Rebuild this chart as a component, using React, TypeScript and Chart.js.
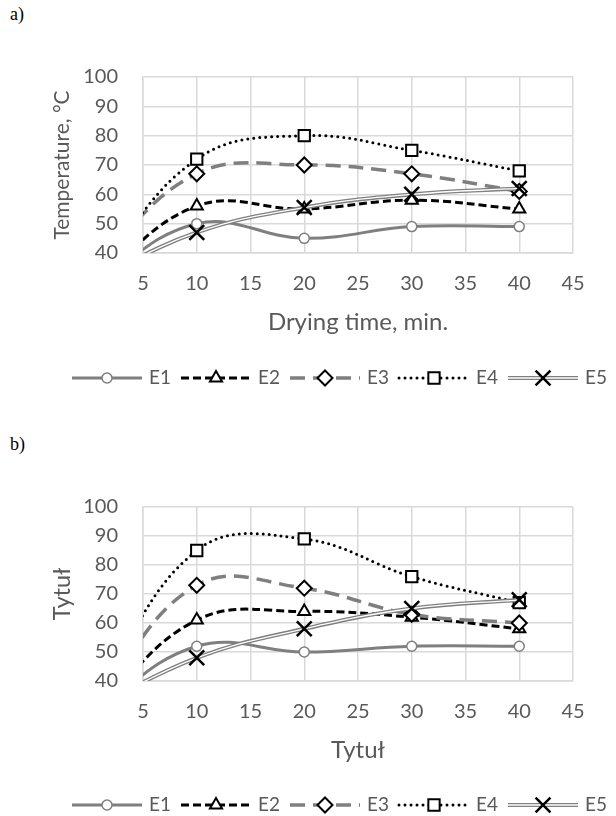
import React, { useEffect, useRef } from 'react';
import { Chart, registerables } from 'chart.js';

Chart.register(...registerables);

// ---------- data ----------
const times = [0, 10, 20, 30, 40];
const seriesNames = ['E1', 'E2', 'E3', 'E4', 'E5'];

// panel a) temperature
const aE1 = [28, 50, 45, 49, 49];
const aE2 = [28, 56, 55, 58, 55];
const aE3 = [34, 67, 70, 67, 61];
const aE4 = [29, 72, 80, 75, 68];
const aE5 = [30, 47, 55.5, 60, 62];

// panel b)
const bE1 = [28, 52, 50, 52, 52];
const bE2 = [27, 61, 64, 62, 58];
const bE3 = [29, 73, 72, 63, 60];
const bE4 = [30, 85, 89, 76, 67];
const bE5 = [30, 48, 58, 65, 68];

const xMin = 5;
const xMax = 45;
const xStep = 5;
const yMin = 40;
const yMax = 100;
const yStep = 10;

const aYTitle = 'Temperature, °C';
const aXTitle = 'Drying time, min.';
const bYTitle = 'Tytuł';
const bXTitle = 'Tytuł';

// ---------- styles ----------
const FONT = 'Lato';
const TEXT = '#595959';
const GRID = '#d9d9d9';
const GRAY = '#7f7f7f';

type Style = {
  color: string;
  width: number;
  dash: number[];
  cap: CanvasLineCap;
  marker: string;
  mColor: string;
  mWidth: number;
  r: number;
};

const styles: Style[] = [
  { color: GRAY, width: 3, dash: [], cap: 'butt', marker: 'circle', mColor: GRAY, mWidth: 1.5, r: 5 },
  { color: '#000', width: 3, dash: [8, 4], cap: 'butt', marker: 'triangle', mColor: '#000', mWidth: 2, r: 7 },
  { color: GRAY, width: 3.5, dash: [15, 8], cap: 'butt', marker: 'rectRot', mColor: '#000', mWidth: 2, r: 7.5 },
  { color: '#000', width: 3, dash: [0, 6], cap: 'round', marker: 'rect', mColor: '#000', mWidth: 2, r: 8 },
  { color: GRAY, width: 4, dash: [], cap: 'butt', marker: 'crossRot', mColor: '#000', mWidth: 2.5, r: 10.5 },
];

function buildDatasets(vals: number[][]) {
  const pts = (arr: number[]) => times.map((t, i) => ({ x: t, y: arr[i] }));
  const ds: any[] = [];
  vals.forEach((arr, i) => {
    const s = styles[i];
    if (i === 4) {
      ds.push({
        label: seriesNames[i] + '_outer',
        data: pts(arr),
        borderColor: s.color,
        borderWidth: s.width,
        pointRadius: 0,
        tension: 0.4,
        clip: 0,
        order: 1,
      });
      ds.push({
        label: seriesNames[i],
        data: pts(arr),
        borderColor: '#ffffff',
        borderWidth: 1.3,
        pointStyle: s.marker,
        pointRadius: s.r,
        pointBorderColor: s.mColor,
        pointBackgroundColor: '#fff',
        pointBorderWidth: s.mWidth,
        tension: 0.4,
        clip: 0,
        order: 0,
      });
    } else {
      ds.push({
        label: seriesNames[i],
        data: pts(arr),
        borderColor: s.color,
        borderWidth: s.width,
        borderDash: s.dash,
        borderCapStyle: s.cap,
        pointStyle: s.marker,
        pointRadius: s.r,
        pointBorderColor: s.mColor,
        pointBackgroundColor: '#fff',
        pointBorderWidth: s.mWidth,
        tension: 0.4,
        clip: 0,
        order: 5 - i + 1,
      });
    }
  });
  return ds;
}

function drawMarker(ctx: CanvasRenderingContext2D, s: Style, x: number, y: number) {
  ctx.save();
  ctx.setLineDash([]);
  ctx.lineWidth = s.mWidth;
  ctx.strokeStyle = s.mColor;
  ctx.fillStyle = '#fff';
  ctx.beginPath();
  const r = s.r;
  if (s.marker === 'circle') {
    ctx.arc(x, y, r, 0, Math.PI * 2);
  } else if (s.marker === 'triangle') {
    const h = (r * 3) / 2;
    const e = (r * 3) / Math.sqrt(3);
    ctx.moveTo(x - e / 2, y + h / 3);
    ctx.lineTo(x + e / 2, y + h / 3);
    ctx.lineTo(x, y - (2 * h) / 3);
    ctx.closePath();
  } else if (s.marker === 'rectRot') {
    ctx.moveTo(x - r, y);
    ctx.lineTo(x, y - r);
    ctx.lineTo(x + r, y);
    ctx.lineTo(x, y + r);
    ctx.closePath();
  } else if (s.marker === 'rect') {
    const h = r * Math.SQRT1_2;
    ctx.rect(x - h, y - h, 2 * h, 2 * h);
  } else if (s.marker === 'crossRot') {
    const h = r * Math.SQRT1_2;
    ctx.moveTo(x - h, y - h);
    ctx.lineTo(x + h, y + h);
    ctx.moveTo(x + h, y - h);
    ctx.lineTo(x - h, y + h);
    ctx.stroke();
    ctx.restore();
    return;
  }
  ctx.fill();
  ctx.stroke();
  ctx.restore();
}

const legendPlugin = {
  id: 'lineLegend',
  afterDraw(chart: any, _args: any, opts: any) {
    const ctx: CanvasRenderingContext2D = chart.ctx;
    const y = opts.y;
    const startX = 72;
    const step = 109;
    const lineLen = 70;
    ctx.save();
    seriesNames.forEach((name, i) => {
      const s = styles[i];
      const x0 = startX + i * step;
      ctx.beginPath();
      ctx.lineWidth = s.width;
      ctx.strokeStyle = s.color;
      ctx.setLineDash(s.dash);
      ctx.lineCap = s.cap;
      ctx.moveTo(x0, y);
      ctx.lineTo(x0 + lineLen, y);
      ctx.stroke();
      if (i === 4) {
        ctx.beginPath();
        ctx.lineWidth = 1.3;
        ctx.strokeStyle = '#fff';
        ctx.setLineDash([]);
        ctx.moveTo(x0, y);
        ctx.lineTo(x0 + lineLen, y);
        ctx.stroke();
      }
      ctx.setLineDash([]);
      drawMarker(ctx, s, x0 + lineLen / 2, y);
      ctx.fillStyle = TEXT;
      ctx.font = `19px ${FONT}`;
      ctx.textAlign = 'left';
      ctx.textBaseline = 'middle';
      ctx.fillText(name, x0 + lineLen + 7, y);
    });
    ctx.restore();
  },
};

type PanelProps = {
  top: number;
  height: number;
  padTop: number;
  padBottom: number;
  legendY: number;
  yTitle: string;
  xTitle: string;
  yTitleSize: number;
  vals: number[][];
};

function Panel({ top, height, padTop, padBottom, legendY, yTitle, xTitle, yTitleSize, vals }: PanelProps) {
  const ref = useRef<HTMLCanvasElement | null>(null);
  useEffect(() => {
    if (!ref.current) return;
    const xTitleSize = 24;
    const chart = new Chart(ref.current, {
      type: 'line',
      data: { datasets: buildDatasets(vals) },
      plugins: [legendPlugin as any],
      options: {
        animation: false,
        responsive: false,
        devicePixelRatio: 1,
        layout: { padding: { top: padTop, bottom: padBottom, left: 0, right: 43 } },
        plugins: {
          legend: { display: false },
          tooltip: { enabled: false },
          lineLegend: { y: legendY },
        } as any,
        scales: {
          x: {
            type: 'linear',
            min: xMin,
            max: xMax,
            ticks: { stepSize: xStep, color: TEXT, font: { family: FONT, size: 20 }, padding: 19 },
            grid: { color: GRID, lineWidth: 1.5, drawTicks: false },
            border: { color: GRID, width: 1.5 },
            title: {
              display: true,
              text: xTitle,
              color: TEXT,
              font: { family: FONT, size: xTitleSize },
              padding: { top: 0, bottom: 6 },
            },
            afterFit: (s: any) => {
              s.height = 90;
            },
          },
          y: {
            type: 'linear',
            min: yMin,
            max: yMax,
            ticks: { stepSize: yStep, color: TEXT, font: { family: FONT, size: 20 }, padding: 25 },
            grid: { color: GRID, lineWidth: 1.5, drawTicks: false },
            border: { color: GRID, width: 1.5 },
            title: {
              display: true,
              text: yTitle,
              color: TEXT,
              font: { family: FONT, size: yTitleSize },
              padding: { top: 62 - (yTitleSize * 1.2) / 2, bottom: 0 },
            },
            afterFit: (s: any) => {
              s.width = 143;
            },
          },
        },
      } as any,
    });
    return () => chart.destroy();
  }, []);
  return (
    <div style={{ position: 'absolute', left: 0, top, width: 616, height }}>
      <canvas ref={ref} width={616} height={height} style={{ display: 'block' }} />
    </div>
  );
}

const labelStyle: React.CSSProperties = {
  position: 'absolute',
  left: 10,
  fontFamily: '"Liberation Serif", "Times New Roman", serif',
  fontSize: 18,
  lineHeight: '18px',
  color: '#000',
};

export default function App() {
  return (
    <div style={{ position: 'absolute', left: 0, top: 0, width: 616, height: 816, background: '#fff' }}>
      <div style={{ ...labelStyle, top: 5 }}>a)</div>
      <div style={{ ...labelStyle, top: 435 }}>b)</div>
      <Panel
        top={40}
        height={370}
        padTop={27}
        padBottom={67}
        legendY={338}
        yTitle={aYTitle}
        xTitle={aXTitle}
        yTitleSize={21}
        vals={[aE1, aE2, aE3, aE4, aE5]}
      />
      <Panel
        top={470}
        height={346}
        padTop={26}
        padBottom={45}
        legendY={335}
        yTitle={bYTitle}
        xTitle={bXTitle}
        yTitleSize={23.5}
        vals={[bE1, bE2, bE3, bE4, bE5]}
      />
    </div>
  );
}
